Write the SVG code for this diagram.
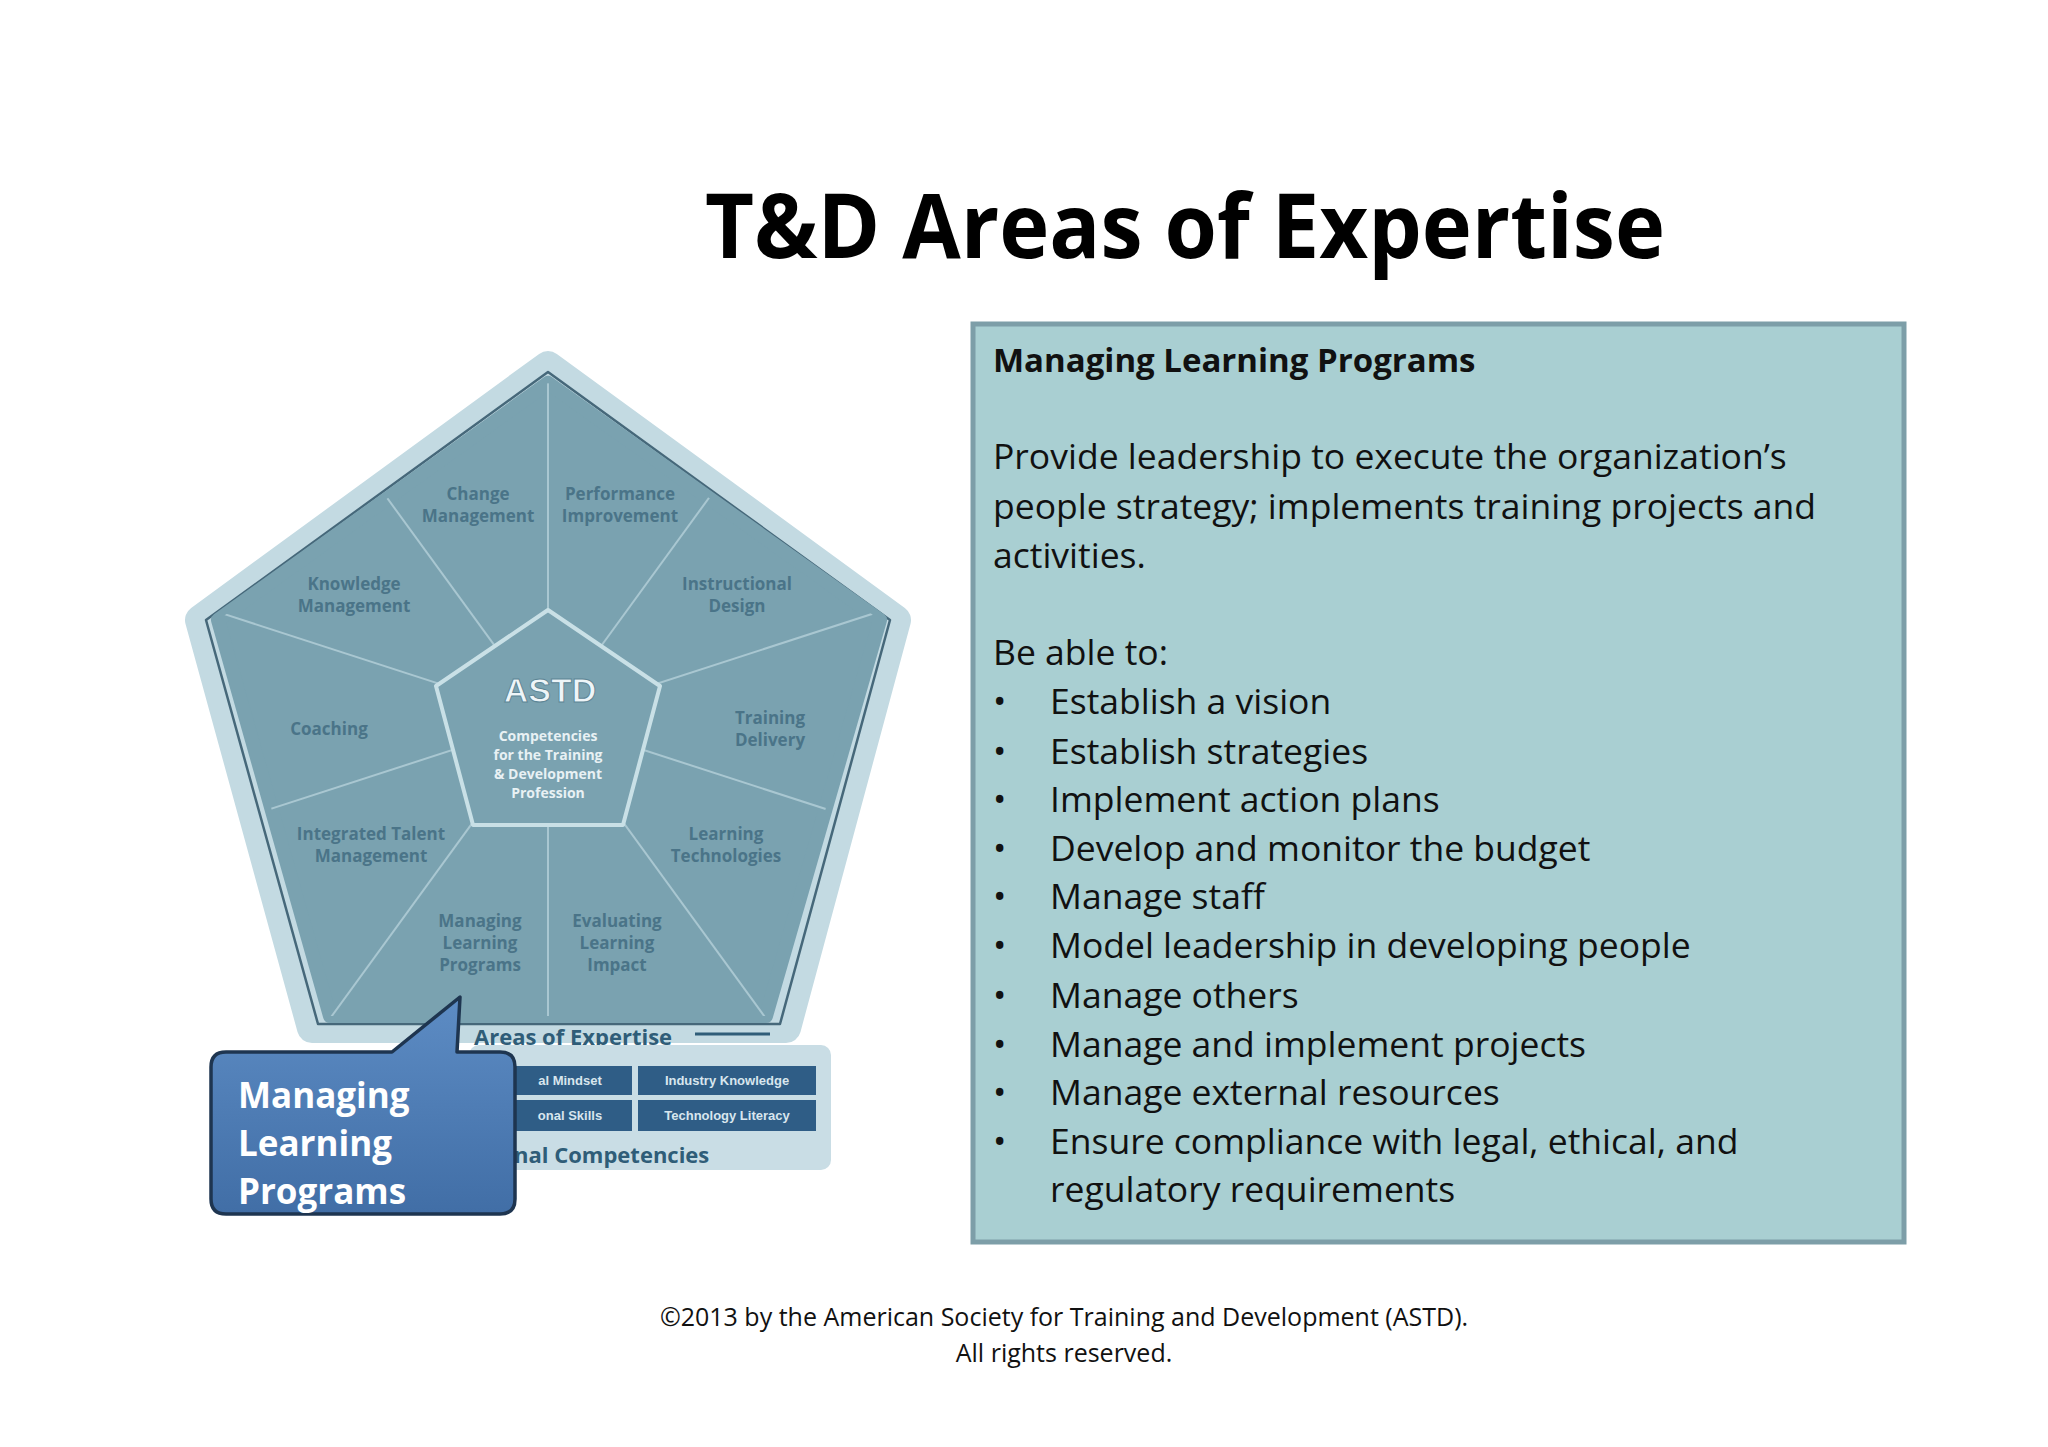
<svg xmlns="http://www.w3.org/2000/svg" width="2048" height="1447" viewBox="0 0 2048 1447">
<defs>
<style>
.lbl{font-family:"Open Sans","Liberation Sans",sans-serif;font-size:17px;font-weight:bold;fill:#4a7488;text-anchor:middle}
.body{font-family:"Open Sans","Liberation Sans",sans-serif;font-size:35.5px;fill:#111}
.cell{font-family:"Liberation Sans",sans-serif;font-size:13px;font-weight:bold;fill:#d8e6ee;text-anchor:middle}
.sub{font-family:"Open Sans","Liberation Sans",sans-serif;font-size:22px;font-weight:bold;fill:#2f5d78}
</style>
<linearGradient id="cg" x1="0" y1="0" x2="0" y2="1"><stop offset="0" stop-color="#5d8cc4"/><stop offset="1" stop-color="#416ea6"/></linearGradient>
<clipPath id="pc"><polygon points="548,383 880,620 766,1016 330,1016 218,620"/></clipPath>
</defs>
<rect width="2048" height="1447" fill="#fff"/>
<text x="1185" y="258" font-family="Open Sans, Liberation Sans, sans-serif" font-size="90" font-weight="bold" text-anchor="middle" textLength="960" lengthAdjust="spacingAndGlyphs" fill="#000">T&amp;D Areas of Expertise</text>

<g id="pentagon">
<polygon points="548,366 896,620 786,1028 312,1028 200,620" fill="#c3dae2" stroke="#c3dae2" stroke-width="30" stroke-linejoin="round"/>
<polygon points="548,372 890,620 780,1024 318,1024 206,620" fill="none" stroke="#46687a" stroke-width="2.5" stroke-linejoin="round"/>
<polygon points="548,383 880,620 766,1016 330,1016 218,620" fill="#7aa2b0" stroke="#7aa2b0" stroke-width="14" stroke-linejoin="round"/>
<g clip-path="url(#pc)" stroke="#a9c7d1" stroke-width="2">
<line x1="548" y1="719" x2="548" y2="300"/>
<line x1="548" y1="719" x2="794" y2="381"/>
<line x1="548" y1="719" x2="946" y2="590"/>
<line x1="548" y1="719" x2="946" y2="848"/>
<line x1="548" y1="719" x2="794" y2="1057"/>
<line x1="548" y1="719" x2="548" y2="1138"/>
<line x1="548" y1="719" x2="302" y2="1057"/>
<line x1="548" y1="719" x2="150" y2="848"/>
<line x1="548" y1="719" x2="150" y2="590"/>
<line x1="548" y1="719" x2="302" y2="381"/>
</g>
<polygon points="548,610 660,686 623,825 473,825 436,686" fill="#7aa2b0" stroke="#c9e0e6" stroke-width="4" stroke-linejoin="round"/>
<text x="550" y="702" font-family="Liberation Sans, sans-serif" font-size="34" font-weight="bold" fill="#eef5f8" stroke="#5d8595" stroke-width="1" text-anchor="middle">ASTD</text>
<text class="lbl" style="fill:#e8f1f4;font-size:14px" x="548" y="741">Competencies</text>
<text class="lbl" style="fill:#e8f1f4;font-size:14px" x="548" y="760">for the Training</text>
<text class="lbl" style="fill:#e8f1f4;font-size:14px" x="548" y="779">&amp; Development</text>
<text class="lbl" style="fill:#e8f1f4;font-size:14px" x="548" y="798">Profession</text>
<text class="lbl" x="478" y="500">Change<tspan x="478" dy="22">Management</tspan></text>
<text class="lbl" x="620" y="500">Performance<tspan x="620" dy="22">Improvement</tspan></text>
<text class="lbl" x="354" y="590">Knowledge<tspan x="354" dy="22">Management</tspan></text>
<text class="lbl" x="737" y="590">Instructional<tspan x="737" dy="22">Design</tspan></text>
<text class="lbl" x="329" y="735">Coaching</text>
<text class="lbl" x="770" y="724">Training<tspan x="770" dy="22">Delivery</tspan></text>
<text class="lbl" x="371" y="840">Integrated Talent<tspan x="371" dy="22">Management</tspan></text>
<text class="lbl" x="726" y="840">Learning<tspan x="726" dy="22">Technologies</tspan></text>
<text class="lbl" x="480" y="927">Managing<tspan x="480" dy="22">Learning</tspan><tspan x="480" dy="22">Programs</tspan></text>
<text class="lbl" x="617" y="927">Evaluating<tspan x="617" dy="22">Learning</tspan><tspan x="617" dy="22">Impact</tspan></text>
</g>

<g id="foundation">
<line x1="695" y1="1034" x2="770" y2="1034" stroke="#2f5d78" stroke-width="3"/>
<text class="sub" x="474" y="1045">Areas of Expertise</text>
<rect x="469" y="1045" width="362" height="125" rx="10" fill="#c9dde5"/>
<rect x="508" y="1066" width="124" height="29" fill="#2f5d86"/>
<rect x="638" y="1066" width="178" height="29" fill="#2f5d86"/>
<rect x="508" y="1100" width="124" height="31" fill="#2f5d86"/>
<rect x="638" y="1100" width="178" height="31" fill="#2f5d86"/>
<text class="cell" x="570" y="1085">al Mindset</text>
<text class="cell" x="727" y="1085">Industry Knowledge</text>
<text class="cell" x="570" y="1120">onal Skills</text>
<text class="cell" x="727" y="1120">Technology Literacy</text>
<text class="sub" x="514" y="1163">nal Competencies</text>
</g>

<g id="callout">
<path d="M226,1052 H392 L460,997 L457,1052 H500 Q515,1052 515,1067 V1199 Q515,1214 500,1214 H226 Q211,1214 211,1199 V1067 Q211,1052 226,1052 Z" fill="url(#cg)" stroke="#1e3550" stroke-width="3.5" stroke-linejoin="round"/>
<text font-family="Open Sans, Liberation Sans, sans-serif" font-size="35" font-weight="bold" fill="#fff" x="238" y="1108">Managing<tspan x="238" dy="48">Learning</tspan><tspan x="238" dy="48">Programs</tspan></text>
</g>

<g id="infobox">
<rect x="973" y="324" width="931" height="918" fill="#a9cfd2" stroke="#7d9ea8" stroke-width="5"/>
<text font-family="Open Sans, Liberation Sans, sans-serif" font-size="33" font-weight="bold" fill="#111" x="993" y="372">Managing Learning Programs</text>
<text class="body" x="993" y="469">Provide leadership to execute the organization’s</text>
<text class="body" x="993" y="519">people strategy; implements training projects and</text>
<text class="body" x="993" y="568">activities.</text>
<text class="body" x="993" y="665">Be able to:</text>
<g class="body">
<text x="993" y="714">•</text><text x="1050" y="714">Establish a vision</text>
<text x="993" y="764">•</text><text x="1050" y="764">Establish strategies</text>
<text x="993" y="812">•</text><text x="1050" y="812">Implement action plans</text>
<text x="993" y="861">•</text><text x="1050" y="861">Develop and monitor the budget</text>
<text x="993" y="909">•</text><text x="1050" y="909">Manage staff</text>
<text x="993" y="958">•</text><text x="1050" y="958">Model leadership in developing people</text>
<text x="993" y="1008">•</text><text x="1050" y="1008">Manage others</text>
<text x="993" y="1057">•</text><text x="1050" y="1057">Manage and implement projects</text>
<text x="993" y="1105">•</text><text x="1050" y="1105">Manage external resources</text>
<text x="993" y="1154">•</text><text x="1050" y="1154">Ensure compliance with legal, ethical, and</text>
<text x="1050" y="1202">regulatory requirements</text>
</g>
</g>

<g id="footer" font-family="Open Sans, Liberation Sans, sans-serif" font-size="25" fill="#111" text-anchor="middle">
<text x="1064" y="1326">©2013 by the American Society for Training and Development (ASTD).</text>
<text x="1064" y="1362">All rights reserved.</text>
</g>
</svg>
